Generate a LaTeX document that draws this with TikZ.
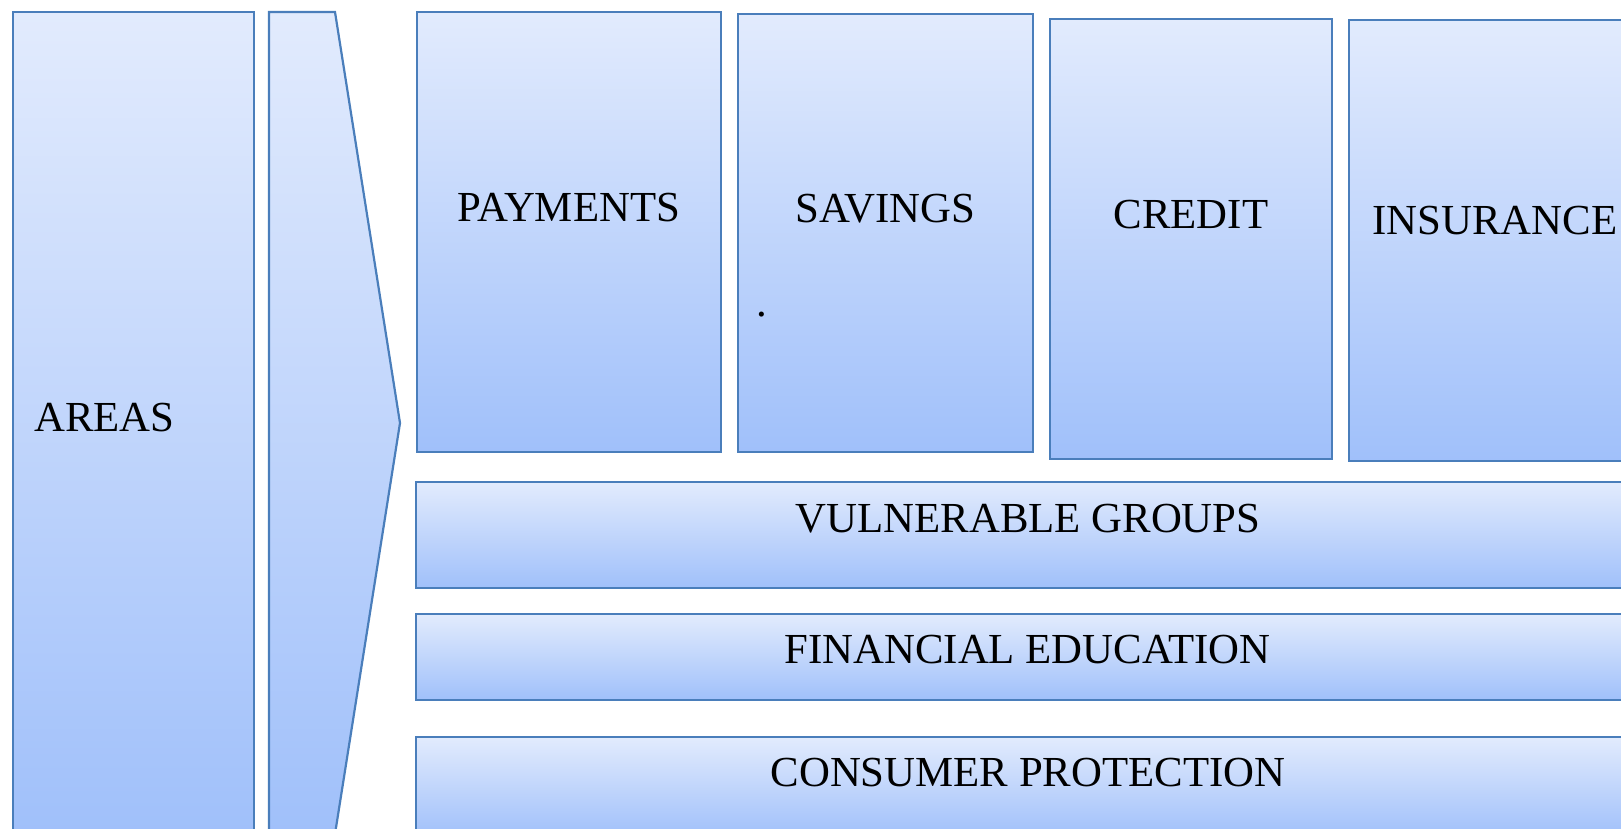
\documentclass[tikz,border=0pt]{standalone}
\usepackage{fontspec}
\setmainfont{Liberation Serif}
\definecolor{boxtop}{HTML}{E2EBFD}
\definecolor{boxbot}{HTML}{A0C0FA}
\definecolor{boxline}{HTML}{4A7EBB}
\begin{document}
\begin{tikzpicture}[x=1pt,y=-1pt,
  panel/.style={draw=boxline, line width=2.2pt, top color=boxtop, bottom color=boxbot,
    anchor=north west, inner sep=0pt, outer sep=0pt},
  lbl/.style={font=\fontsize{42.8}{51}\selectfont, text=black, inner sep=0pt}]
\useasboundingbox (0,0) rectangle (1621,828);
\clip (0,0) rectangle (1621,828);

% left column and the chevron pointing at the areas
\node[panel, minimum width=241pt, minimum height=822pt] (areas) at (13,12) {};
\draw[draw=boxline, line width=2.2pt, top color=boxtop, bottom color=boxbot]
  (269,12) -- (335,12) -- (400,423) -- (335,834) -- (269,834) -- cycle;

% product boxes
\node[panel, minimum width=304pt, minimum height=440pt] (pay)  at (417,12) {};
\node[panel, minimum width=295pt, minimum height=438pt] (sav)  at (738,14) {};
\node[panel, minimum width=282pt, minimum height=440pt] (cred) at (1050,19) {};
\node[panel, minimum width=300pt, minimum height=441pt] (ins)  at (1349,20) {};

% cross-cutting bands
\node[panel, minimum width=1224pt, minimum height=106pt] (vul) at (416,482) {};
\node[panel, minimum width=1224pt, minimum height=86pt]  (fin) at (416,614) {};
\node[panel, minimum width=1224pt, minimum height=100pt] (con) at (416,737) {};

% labels
\node[lbl, anchor=west] (tareas) at (34,418) {AREAS};
\node[lbl] (tpay)  at (568.6,208) {PAYMENTS};
\node[lbl] (tsav)  at (885.5,209) {SAVINGS};
\node[lbl, anchor=base west] (tdot) at (756,316) {.};
\node[lbl] (tcred) at (1191,215) {CREDIT};
\node[lbl] (tins)  at (1495,221) {INSURANCE};
\node[lbl] (tvul)  at (1028,519) {VULNERABLE GROUPS};
\node[lbl] (tfin)  at (1027.6,650) {FINANCIAL EDUCATION};
\node[lbl] (tcon)  at (1028,773) {CONSUMER PROTECTION};
\end{tikzpicture}
\end{document}
